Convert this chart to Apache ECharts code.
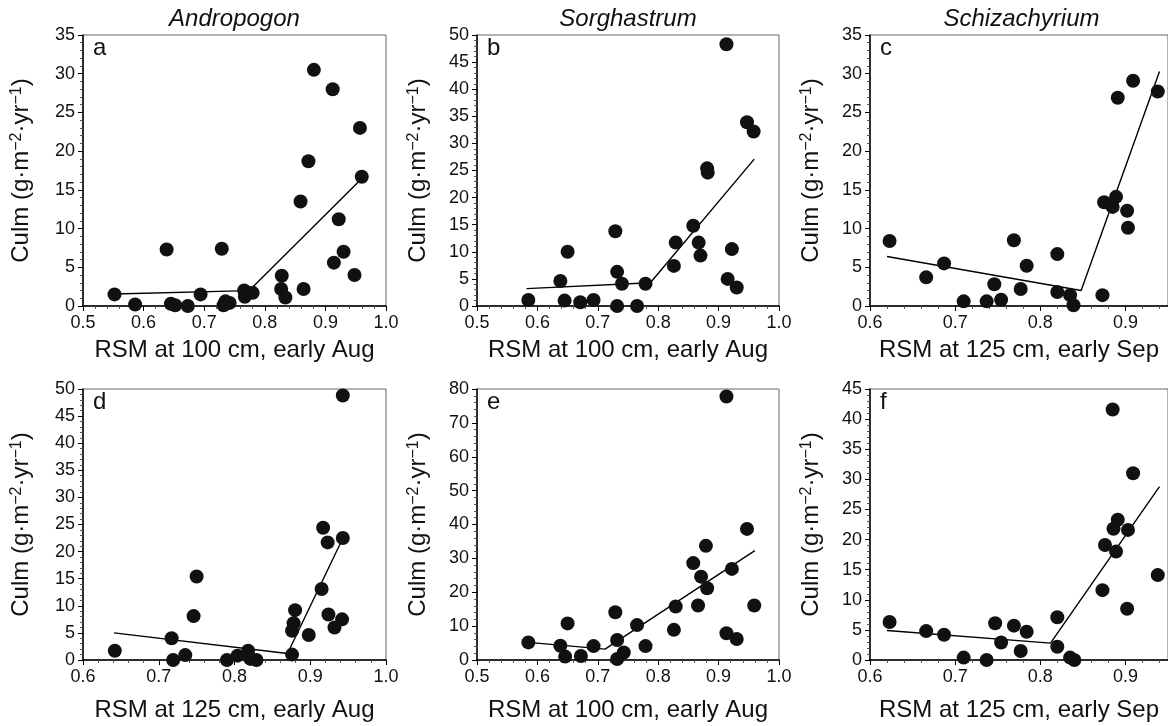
<!DOCTYPE html>
<html>
<head>
<meta charset="utf-8">
<script src="https://cdn.jsdelivr.net/npm/echarts@6/dist/echarts.min.js"></script>
<style>
  html, body { margin: 0; padding: 0; background: #fff; }
  #chart { width: 1168px; height: 726px; }
</style>
</head>
<body>
<div id="chart"></div>
<script>
// panel a: Andropogon, RSM 100 cm early Aug
const androAugPts = [[0.552,1.5],[0.586,0.2],[0.638,7.3],[0.645,0.3],[0.652,0.1],[0.673,0.0],[0.694,1.5],
  [0.729,7.4],[0.732,0.1],[0.735,0.6],[0.742,0.4],[0.766,2.0],[0.767,1.2],[0.780,1.7],[0.828,3.9],
  [0.827,2.2],[0.834,1.1],[0.859,13.5],[0.864,2.2],[0.872,18.7],[0.881,30.5],[0.912,28.0],[0.914,5.6],
  [0.922,11.2],[0.930,7.0],[0.948,4.0],[0.957,23.0],[0.960,16.7]];
const androAugFit = [[0.551,1.55],[0.774,1.98],[0.958,16.3]];

// panel b: Sorghastrum, RSM 100 cm early Aug
const sorgAugPts = [[0.585,1.1],[0.638,4.6],[0.650,10.0],[0.645,1.0],[0.671,0.7],[0.693,1.1],[0.729,13.8],
  [0.732,6.3],[0.732,0.0],[0.740,4.1],[0.765,0.0],[0.779,4.1],[0.826,7.4],[0.829,11.7],[0.858,14.8],
  [0.867,11.7],[0.870,9.3],[0.881,25.4],[0.882,24.6],[0.913,48.3],[0.915,5.0],[0.922,10.5],[0.930,3.4],
  [0.947,33.9],[0.958,32.2]];
const sorgAugFit = [[0.582,3.2],[0.787,4.3],[0.959,27.1]];

// panel c: Schizachyrium, RSM 125 cm early Sep
const schizSepPts = [[0.623,8.4],[0.666,3.7],[0.687,5.5],[0.710,0.6],[0.737,0.6],[0.746,2.8],[0.754,0.8],
  [0.769,8.5],[0.777,2.2],[0.784,5.2],[0.820,6.7],[0.820,1.8],[0.835,1.4],[0.839,0.1],[0.873,1.4],
  [0.875,13.4],[0.885,12.8],[0.889,14.1],[0.891,26.9],[0.902,12.3],[0.903,10.1],[0.909,29.1],[0.938,27.7]];
const schizSepFit = [[0.620,6.4],[0.848,2.0],[0.940,30.3]];

// panel d: Andropogon, RSM 125 cm early Aug
const andro125Pts = [[0.642,1.7],[0.717,4.0],[0.719,0.0],[0.735,0.9],[0.746,8.1],[0.750,15.4],[0.790,0.0],
  [0.804,0.8],[0.818,1.7],[0.821,0.2],[0.829,0.0],[0.876,1.0],[0.876,5.4],[0.878,6.8],[0.880,9.2],
  [0.898,4.6],[0.915,13.1],[0.917,24.4],[0.923,21.7],[0.924,8.4],[0.932,6.0],[0.942,7.5],[0.943,22.5],
  [0.943,48.8]];
const andro125Fit = [[0.641,5.0],[0.870,1.2],[0.940,21.6]];

// panel e: Sorghastrum, RSM 100 cm early Aug
const sorg2Pts = [[0.585,5.2],[0.638,4.2],[0.646,1.0],[0.650,10.8],[0.672,1.2],[0.693,4.1],[0.729,14.1],
  [0.732,5.9],[0.732,0.3],[0.743,2.2],[0.765,10.3],[0.779,4.1],[0.826,8.9],[0.829,15.8],[0.858,28.6],
  [0.866,16.1],[0.871,24.6],[0.881,21.2],[0.879,33.7],[0.913,77.8],[0.913,7.9],[0.922,26.9],[0.930,6.2],
  [0.947,38.7],[0.959,16.1]];
const sorg2Fit = [[0.585,5.2],[0.712,3.2],[0.960,32.3]];

// panel f: Schizachyrium, RSM 125 cm early Sep
const schiz2Pts = [[0.623,6.3],[0.666,4.8],[0.687,4.2],[0.710,0.4],[0.737,0.0],[0.747,6.1],[0.754,2.9],
  [0.769,5.7],[0.777,1.5],[0.784,4.7],[0.820,7.1],[0.820,2.2],[0.835,0.4],[0.840,0.0],[0.873,11.6],
  [0.876,19.1],[0.885,41.6],[0.886,21.8],[0.891,23.3],[0.889,18.0],[0.902,8.5],[0.903,21.6],[0.909,31.0],
  [0.938,14.1]];
const schiz2Fit = [[0.620,4.9],[0.812,2.8],[0.940,28.8]];

const species = ['Andropogon', 'Sorghastrum', 'Schizachyrium'];
const letters = ['a', 'b', 'c', 'd', 'e', 'f'];
const xNames = ['RSM at 100 cm, early Aug', 'RSM at 100 cm, early Aug', 'RSM at 125 cm, early Sep',
  'RSM at 125 cm, early Aug', 'RSM at 100 cm, early Aug', 'RSM at 125 cm, early Sep'];
const xMins = [0.5, 0.5, 0.6, 0.6, 0.5, 0.6];
const xMaxs = [1.0, 1.0, 0.95, 1.0, 1.0, 0.95];
const yMaxs = [35, 50, 35, 50, 80, 45];
const yIntervals = [5, 5, 5, 5, 10, 5];
const points = [androAugPts, sorgAugPts, schizSepPts, andro125Pts, sorg2Pts, schiz2Pts];
const fits = [androAugFit, sorgAugFit, schizSepFit, andro125Fit, sorg2Fit, schiz2Fit];

const FONT = '"Liberation Sans", Arial, Helvetica, sans-serif';
const lefts = [83, 477, 870];
const widths = [303, 302, 303];
const tops = [35, 389];
const yGaps = [50, 47, 47];

var grid = [], xAxis = [], yAxis = [], series = [], graphic = [];
for (let i = 0; i < 6; i++) {
  const col = i % 3, row = Math.floor(i / 3);
  grid.push({
    left: lefts[col], top: tops[row], width: widths[col], height: 271,
    show: true, borderColor: '#666', borderWidth: 1, backgroundColor: '#fff'
  });
  xAxis.push({
    gridIndex: i, type: 'value', min: xMins[i], max: xMaxs[i], interval: 0.1,
    name: xNames[i], nameLocation: 'middle', nameGap: row === 0 ? 32 : 38,
    nameTextStyle: { fontSize: 24, color: '#111', fontFamily: FONT },
    axisLine: { onZero: false, lineStyle: { color: '#000', width: 1.5 } },
    axisTick: { show: true, length: 5, lineStyle: { color: '#000' } },
    minorTick: { show: true, splitNumber: 5, length: 3, lineStyle: { color: '#555' } },
    splitLine: { show: false },
    axisLabel: {
      fontSize: 18, color: '#111', fontFamily: FONT, margin: 8,
      showMaxLabel: xMaxs[i] === 1.0,
      formatter: v => v.toFixed(1)
    }
  });
  yAxis.push({
    gridIndex: i, type: 'value', min: 0, max: yMaxs[i], interval: yIntervals[i],
    name: 'Culm (g·m{sup|−2}·yr{sup|−1})', nameLocation: 'middle', nameGap: yGaps[col],
    nameTextStyle: {
      fontSize: 24, color: '#111', fontFamily: FONT,
      rich: { sup: { fontSize: 16, fontFamily: FONT, color: '#111', verticalAlign: 'top' } }
    },
    axisLine: { show: true, onZero: false, lineStyle: { color: '#000', width: 1.5 } },
    axisTick: { show: true, length: 5, lineStyle: { color: '#000' } },
    minorTick: { show: true, splitNumber: 5, length: 3, lineStyle: { color: '#555' } },
    splitLine: { show: false },
    axisLabel: { fontSize: 18, color: '#111', fontFamily: FONT, margin: 8 }
  });
  series.push({
    type: 'line', xAxisIndex: i, yAxisIndex: i, data: fits[i],
    symbol: 'none', silent: true, z: 2,
    lineStyle: { color: '#000', width: 1.4 }
  });
  series.push({
    type: 'scatter', xAxisIndex: i, yAxisIndex: i, data: points[i],
    symbolSize: 14, clip: false, silent: true, z: 3,
    itemStyle: { color: '#111', opacity: 1 }
  });
  graphic.push({
    type: 'text', x: lefts[col] + 10, y: tops[row] + 25, z: 10,
    style: { text: letters[i], font: '24px ' + FONT, fill: '#111', textVerticalAlign: 'bottom' }
  });
}
species.forEach((s, k) => {
  graphic.push({
    type: 'text', x: lefts[k] + widths[k] / 2, y: 19, z: 10,
    style: { text: s, font: 'italic 24px ' + FONT, fill: '#111', textAlign: 'center', textVerticalAlign: 'middle' }
  });
});

var myChart = echarts.init(document.getElementById('chart'));
myChart.setOption({
  animation: false,
  backgroundColor: '#fff',
  grid: grid,
  xAxis: xAxis,
  yAxis: yAxis,
  series: series,
  graphic: graphic
});
</script>
</body>
</html>
